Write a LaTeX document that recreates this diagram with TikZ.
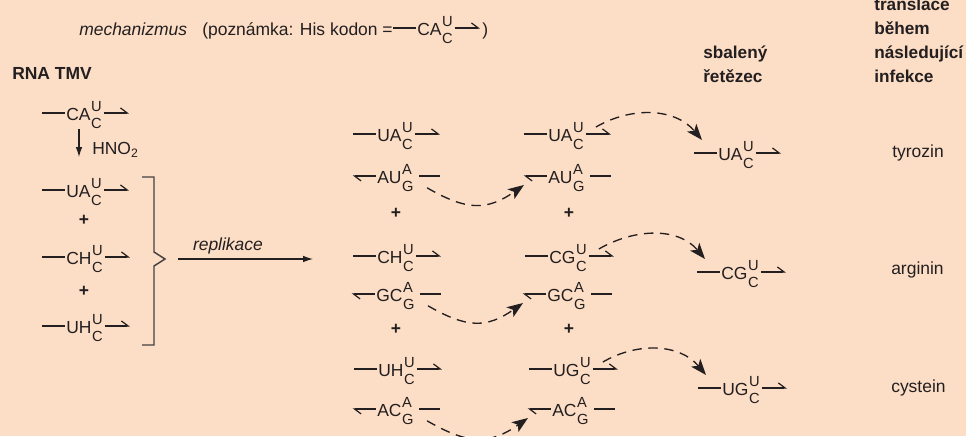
\documentclass[tikz,border=0pt]{standalone}
\usepackage{fontspec}
\setmainfont{Liberation Sans}
\usetikzlibrary{arrows.meta,calc}

\definecolor{pozadi}{RGB}{252,221,197}
\definecolor{tmava}{RGB}{35,31,32}

\newcommand{\zakl}{\fontsize{13.1}{16}\selectfont}
\newcommand{\maly}{\fontsize{11}{11}\selectfont}
\newcommand{\kod}[3]{#1\hspace{0.4pt}\rlap{\raisebox{6.3pt}{\maly #2}}\raisebox{-6.3pt}{\maly #3}}

% horni vlakno: --XY--\
\newcommand{\horni}[6]{%
	\node[kodon] (#1) at (#2+25,#3+7) {\kod{#4}{#5}{#6}};
	\draw[vlakno] ([xshift=-1pt,yshift=5.3pt]#1.base west) -- ++(-23,0);
	\draw[vlakno, harpuna] ([xshift=1.5pt,yshift=5.3pt]#1.base east) -- ++(25,0);
}
% dolni vlakno: /--XY --
\newcommand{\dolni}[6]{%
	\node[kodon] (#1) at (#2+25,#3+7) {\kod{#4}{#5}{#6}};
	\draw[vlakno, harpuna] ([xshift=-1pt,yshift=5.3pt]#1.base west) -- ++(-23,0);
	\draw[vlakno] ([xshift=4pt,yshift=5.3pt]#1.base east) -- ++(21,0);
}

\begin{document}
\begin{tikzpicture}[
		x=0.75pt, y=-0.75pt,
		kodon/.style={anchor=base west, inner sep=0pt, font=\zakl, text=tmava},
		popis/.style={anchor=base west, inner sep=0pt, font=\zakl, text=tmava},
		hlavicka/.style={anchor=base west, inner sep=0pt, align=left, font=\fontsize{12.9}{18}\selectfont\bfseries, text=tmava},
		znamenko/.style={inner sep=0pt, font=\zakl\bfseries, text=tmava},
		vlakno/.style={draw=tmava, line width=1.1pt},
		harpuna/.style={-{Straight Barb[left,length=5pt,width=7.5pt,line width=0.9pt]}},
		reakce/.style={draw=tmava, line width=0.9pt, -{Latex[length=7.5pt,width=5pt]}},
		sipka/.style={draw=tmava, line width=1pt, dash pattern=on 7pt off 5pt, -{Stealth[length=12pt,width=9pt,inset=3pt]}},
		zavorka/.style={draw=tmava!85, line width=1.1pt}
		]
		
		\useasboundingbox (0,0) rectangle (966,436);
		\fill[pozadi] (0,0) rectangle (966,436);
		\clip (0,0) rectangle (966,436);
		
		% ======================
		% Nadpisy
		% ======================
		\node[popis] (mech) at (79,35) {\itshape mechanizmus};
		\node[popis] (pozn) at (202,35) {(poznámka: His kodon =};
		\horni{his}{392}{28}{CA}{U}{C}
		\node[popis] (zav) at (482,35) {)};
		
		\node[popis, font=\zakl\bfseries] (rna) at (12,79) {RNA TMV};
		\node[hlavicka] (sbal) at (703,82) {sbalený\\řetězec};
		\node[hlavicka] (trans) at (874,82) {translace\\během\\následující\\infekce};
		
		% ======================
		% RNA TMV a HNO2
		% ======================
		\horni{ca}{41}{113}{CA}{U}{C}
		\node[popis] (hno) at (92,154) {HNO\textsubscript{2}};
		\coordinate (hnokonec) at (79,157);
		\draw[reakce] (ca.south -| hnokonec) -- (hnokonec);
		
		\horni{ua}{41}{190}{UA}{U}{C}
		\node[znamenko] (p1) at (84,220) {+};
		\horni{ch}{41}{257}{CH}{U}{C}
		\node[znamenko] (p2) at (84,291) {+};
		\horni{uh}{41}{326}{UH}{U}{C}
		
		% zavorka a replikace
		\coordinate (hrot) at (165,259);
		\draw[zavorka] (142,177) -| (154,252) -- (hrot) -- (154,266) |- (142,345);
		\coordinate (repkonec) at (313,259);
		\draw[reakce] ([xshift=9.75pt]hrot) -- (repkonec)
			node[popis, pos=0.37, anchor=base, yshift=6.5pt] (rep) {\itshape replikace};
		
		% ======================
		% Po replikaci
		% ======================
		\horni{up2a}{352}{134}{UA}{U}{C}
		\dolni{lo2a}{352}{176}{AU}{A}{G}
		\node[znamenko] (p3) at (396,213) {+};
		\horni{up2b}{352}{256}{CH}{U}{C}
		\dolni{lo2b}{351}{294}{GC}{A}{G}
		\node[znamenko] (p4) at (396,329) {+};
		\horni{up2c}{353}{369}{UH}{U}{C}
		\dolni{lo2c}{352}{409}{AC}{A}{G}
		
		\horni{up3a}{523}{134}{UA}{U}{C}
		\dolni{lo3a}{523}{176}{AU}{A}{G}
		\node[znamenko] (p5) at (569,213) {+};
		\horni{up3b}{524}{256}{CG}{U}{C}
		\dolni{lo3b}{522}{294}{GC}{A}{G}
		\node[znamenko] (p6) at (569,329) {+};
		\horni{up3c}{528}{369}{UG}{U}{C}
		\dolni{lo3c}{527}{409}{AC}{A}{G}
		
		% ======================
		% Sbaleny retezec
		% ======================
		\horni{kona}{693}{153}{UA}{U}{C}
		\horni{konb}{696}{272}{CG}{U}{C}
		\horni{konc}{697}{388}{UG}{U}{C}
		
		\node[popis] (tyr) at (892,157) {tyrozin};
		\node[popis] (arg) at (891,274) {arginin};
		\node[popis] (cys) at (891,392) {cystein};
		
		% ======================
		% Carkovane sipky
		% ======================
		\draw[sipka] ([xshift=10pt,yshift=3pt]lo2a.south east) to[out=-30,in=-145,looseness=1.2] ([xshift=-18pt,yshift=-1.5pt]lo3a.base west);
		\draw[sipka] ([xshift=10pt,yshift=3pt]lo2b.south east) to[out=-30,in=-145,looseness=1.2] ([xshift=-18pt,yshift=-1.5pt]lo3b.base west);
		\draw[sipka] ([xshift=10pt,yshift=3pt]lo2c.south east) to[out=-30,in=-145,looseness=1.2] ([xshift=-18pt,yshift=-1.5pt]lo3c.base west);
		
		\draw[sipka] ([xshift=9pt,yshift=10.5pt]up3a.base east) to[out=30,in=130] ([xshift=-12pt,yshift=15pt]kona.base west);
		\draw[sipka] ([xshift=9pt,yshift=10.5pt]up3b.base east) to[out=30,in=130] ([xshift=-12pt,yshift=15pt]konb.base west);
		\draw[sipka] ([xshift=9pt,yshift=10.5pt]up3c.base east) to[out=30,in=130] ([xshift=-12pt,yshift=15pt]konc.base west);
		
	\end{tikzpicture}
\end{document}
